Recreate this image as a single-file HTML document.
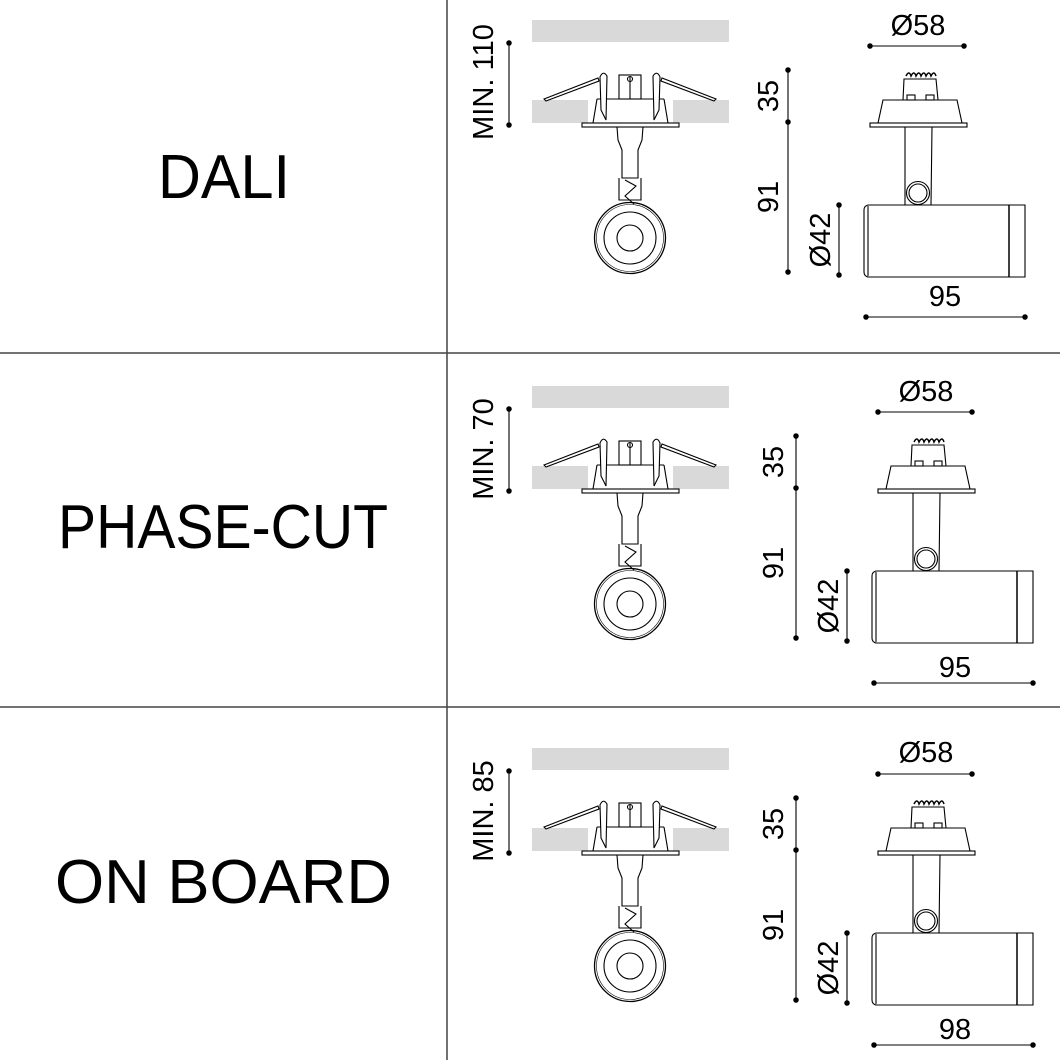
<!DOCTYPE html>
<html><head><style>
html,body{margin:0;padding:0;background:#fff;width:1060px;height:1060px;overflow:hidden}
svg{display:block}
text{font-family:"Liberation Sans",sans-serif;fill:#000}
</style></head><body>
<svg width="1060" height="1060" viewBox="0 0 1060 1060" xmlns="http://www.w3.org/2000/svg">
<defs>
<g id="L" fill="none" stroke="#000" stroke-width="1.1">
  <rect x="532" y="20" width="197" height="22" fill="#d9d9d9" stroke="none"/>
  <rect x="532" y="100" width="56" height="23" fill="#d9d9d9" stroke="none"/>
  <rect x="673" y="100" width="56" height="23" fill="#d9d9d9" stroke="none"/>
  <line x1="509" y1="43" x2="509" y2="125"/>
  <circle cx="509" cy="43" r="2.2" fill="#000"/>
  <circle cx="509" cy="125" r="2.2" fill="#000"/>
  <path d="M597 99 L593 123 M664 99 L668 123 M597 99 L664 99" fill="#fff"/>
  <path d="M600 77 Q603 70 607 76 L606 120 L601 110 Z" fill="#fff"/>
  <path d="M660 77 Q657 70 653 76 L654 120 L659 110 Z" fill="#fff"/>
  <rect x="619" y="75" width="22" height="24" fill="#fff"/>
  <line x1="630" y1="77" x2="630" y2="99"/>
  <circle cx="630" cy="79" r="2.5"/>
  <path d="M544 99 L598 78 L599 81 L546 101 Z" fill="#fff"/>
  <path d="M716 99 L662 78 L661 81 L714 101 Z" fill="#fff"/>
  <rect x="582" y="123" width="97" height="4" fill="#fff"/>
  <path d="M617 127 L618 140 L622 150 L622 178 L638 178 L638 150 L642 140 L643 127"/>
  <path d="M619 178 L619 200 L641 200 L641 178 M625 180 L636 186 L625 196 L634 204"/>
  <circle cx="630" cy="238" r="35.5" stroke-width="1.3"/>
  <circle cx="630" cy="238" r="33.5" stroke-width="0.6"/>
  <circle cx="630" cy="238" r="26"/>
  <circle cx="630" cy="238" r="13"/>
</g>
<g id="R" fill="none" stroke="#000" stroke-width="1.1">
  <line x1="870" y1="46" x2="964" y2="46"/>
  <circle cx="870" cy="46" r="2.2" fill="#000"/><circle cx="964" cy="46" r="2.2" fill="#000"/>
  <line x1="788" y1="70" x2="788" y2="272"/>
  <circle cx="788" cy="70" r="2.2" fill="#000"/><circle cx="788" cy="122" r="2.2" fill="#000"/><circle cx="788" cy="272" r="2.2" fill="#000"/>
  <line x1="839" y1="205" x2="839" y2="275"/>
  <circle cx="839" cy="205" r="2.2" fill="#000"/><circle cx="839" cy="275" r="2.2" fill="#000"/>
  <line x1="866" y1="317" x2="1025" y2="317"/>
  <circle cx="866" cy="317" r="2.2" fill="#000"/><circle cx="1025" cy="317" r="2.2" fill="#000"/>
  <path d="M903 100 L904 79 L936 79 L938 100"/>
  <path d="M906 76 q3 -6 5 0 q3 -6 5 0 q3 -6 5 0 q3 -6 5 0 q3 -6 5 0 q3 -6 5 0" stroke-width="1.5"/>
  <rect x="907" y="95" width="8" height="5"/><rect x="926" y="95" width="8" height="5"/>
  <path d="M883 100 L957 100 L962 123 L878 123 Z"/>
  <rect x="870" y="123" width="97" height="4"/>
  <path d="M905 127 L905 205 L931 205 L932 127"/>
  <circle cx="918" cy="193" r="11.5"/><circle cx="918" cy="193" r="9"/>
  <path d="M868 205 L1025 205 L1025 277 L868 277 Q864 276 864 272 L864 210 Q864 206 868 205 Z"/>
  <line x1="868" y1="206" x2="868" y2="276"/>
  <line x1="1009" y1="205" x2="1009" y2="277" stroke-width="1.5"/>
</g>
</defs>
<line x1="447" y1="0" x2="447" y2="1060" stroke="#444" stroke-width="1.5"/>
<line x1="0" y1="353" x2="1060" y2="353" stroke="#444" stroke-width="1.5"/>
<line x1="0" y1="707" x2="1060" y2="707" stroke="#444" stroke-width="1.5"/>

<text x="158" y="198" font-size="62" textLength="132" lengthAdjust="spacingAndGlyphs">DALI</text>
<text x="58" y="548" font-size="62" textLength="330" lengthAdjust="spacingAndGlyphs">PHASE-CUT</text>
<text x="55" y="903" font-size="62" textLength="337" lengthAdjust="spacingAndGlyphs">ON BOARD</text>

<use href="#L"/>
<use href="#L" transform="translate(0,366)"/>
<use href="#L" transform="translate(0,728)"/>
<use href="#R"/>
<use href="#R" transform="translate(8,366)"/>
<use href="#R" transform="translate(8,728)"/>

<g font-size="29">
<text transform="translate(493,82) rotate(-90)" text-anchor="middle" textLength="116" lengthAdjust="spacingAndGlyphs">MIN. 110</text>
<text transform="translate(493,449) rotate(-90)" text-anchor="middle">MIN. 70</text>
<text transform="translate(493,811) rotate(-90)" text-anchor="middle">MIN. 85</text>

<text x="918" y="35" text-anchor="middle">Ø58</text>
<text transform="translate(778,96) rotate(-90)" text-anchor="middle">35</text>
<text transform="translate(778,197) rotate(-90)" text-anchor="middle">91</text>
<text transform="translate(830,240) rotate(-90)" text-anchor="middle">Ø42</text>
<text x="945" y="306" text-anchor="middle">95</text>

<text x="926" y="401" text-anchor="middle">Ø58</text>
<text transform="translate(783,462) rotate(-90)" text-anchor="middle">35</text>
<text transform="translate(783,563) rotate(-90)" text-anchor="middle">91</text>
<text transform="translate(838,606) rotate(-90)" text-anchor="middle">Ø42</text>
<text x="955" y="677" text-anchor="middle">95</text>

<text x="926" y="762" text-anchor="middle">Ø58</text>
<text transform="translate(783,824) rotate(-90)" text-anchor="middle">35</text>
<text transform="translate(783,925) rotate(-90)" text-anchor="middle">91</text>
<text transform="translate(838,968) rotate(-90)" text-anchor="middle">Ø42</text>
<text x="955" y="1039" text-anchor="middle">98</text>
</g>
</svg>
</body></html>
